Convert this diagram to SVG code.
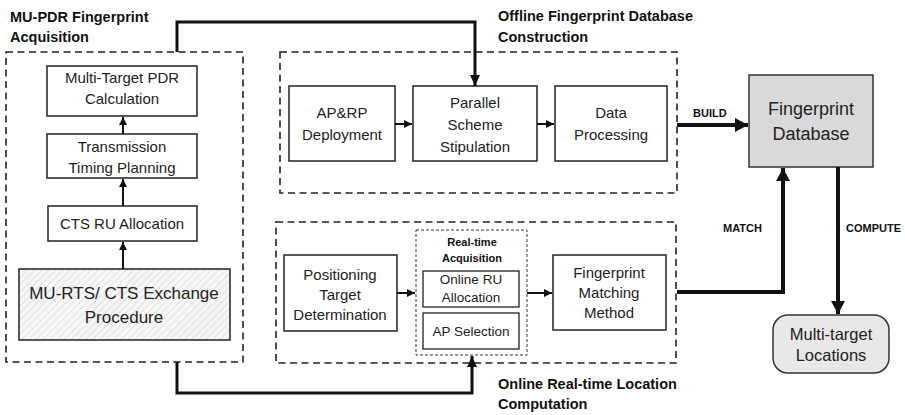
<svg xmlns="http://www.w3.org/2000/svg" width="905" height="415" viewBox="0 0 905 415">
<style>
  .box{fill:#fff;stroke:#222;stroke-width:1.5}
  .grp{fill:none;stroke:#222;stroke-width:1.6;stroke-dasharray:7 4.5}
  .dot{fill:none;stroke:#333;stroke-width:1;stroke-dasharray:3 2}
  .t{font-family:"Liberation Sans",Arial,sans-serif;font-size:15px;fill:#222;text-anchor:middle}
  .s{font-size:13.5px}
  .title{font-family:"Liberation Sans",Arial,sans-serif;font-size:14.5px;font-weight:bold;fill:#111}
  .lab{font-family:"Liberation Sans",Arial,sans-serif;font-size:11px;font-weight:bold;fill:#111}
  .thin{fill:none;stroke:#111;stroke-width:2;marker-end:url(#a1)}
  .mid{fill:none;stroke:#111;stroke-width:3;marker-end:url(#a2)}
  .thick{fill:none;stroke:#111;stroke-width:4;marker-end:url(#a3)}
</style>
<defs>
  <marker id="a1" markerUnits="userSpaceOnUse" markerWidth="9" markerHeight="8" refX="8" refY="4" orient="auto"><path d="M0,0 L8,4 L0,8 Z" fill="#111"/></marker>
  <marker id="a2" markerUnits="userSpaceOnUse" markerWidth="12" markerHeight="10" refX="11" refY="5" orient="auto"><path d="M0,0 L11,5 L0,10 Z" fill="#111"/></marker>
  <marker id="a3" markerUnits="userSpaceOnUse" markerWidth="14" markerHeight="14" refX="13" refY="7" orient="auto"><path d="M0,0 L13,7 L0,14 Z" fill="#111"/></marker>
  <pattern id="hatch" patternUnits="userSpaceOnUse" width="5" height="5" patternTransform="rotate(45)">
    <rect width="5" height="5" fill="#f6f6f6"/>
    <line x1="0" y1="0" x2="0" y2="5" stroke="#cfcfcf" stroke-width="1.1"/>
  </pattern>
</defs>

<g id="group-acquisition">
  <rect class="grp" x="6" y="52" width="237" height="310"/>
  <text class="title" x="10" y="22">MU-PDR Fingerprint</text>
  <text class="title" x="10" y="42">Acquisition</text>
</g>
<g id="group-offline">
  <rect class="grp" x="280" y="52" width="397" height="141"/>
  <text class="title" x="498" y="21">Offline Fingerprint Database</text>
  <text class="title" x="498" y="42">Construction</text>
</g>
<g id="group-online">
  <rect class="grp" x="276" y="222" width="400" height="141"/>
  <text class="title" x="498" y="389">Online Real-time Location</text>
  <text class="title" x="498" y="409">Computation</text>
</g>

<g id="node-pdr-calc">
  <rect class="box" x="47" y="66" width="150" height="50"/>
  <text class="t" x="122" y="83">Multi-Target PDR</text>
  <text class="t" x="122" y="104">Calculation</text>
</g>
<g id="node-timing">
  <rect class="box" x="47" y="134" width="150" height="44"/>
  <text class="t" x="122" y="152">Transmission</text>
  <text class="t" x="122" y="173">Timing Planning</text>
</g>
<g id="node-cts-ru">
  <rect class="box" x="48" y="206" width="149" height="35"/>
  <text class="t" x="122" y="229">CTS RU Allocation</text>
</g>
<g id="node-exchange">
  <rect x="19" y="269" width="211" height="71" fill="url(#hatch)" stroke="#222" stroke-width="1.5"/>
  <text class="t" x="124" y="299" style="font-size:17px">MU-RTS/ CTS Exchange</text>
  <text class="t" x="124" y="323" style="font-size:17px">Procedure</text>
</g>

<g id="node-aprp">
  <rect class="box" x="289" y="86" width="106" height="75"/>
  <text class="t" x="342" y="118">AP&amp;RP</text>
  <text class="t" x="342" y="140">Deployment</text>
</g>
<g id="node-parallel">
  <rect class="box" x="413" y="86" width="124" height="75"/>
  <text class="t" x="475" y="108">Parallel</text>
  <text class="t" x="475" y="130">Scheme</text>
  <text class="t" x="475" y="152">Stipulation</text>
</g>
<g id="node-data">
  <rect class="box" x="555" y="86" width="112" height="75"/>
  <text class="t" x="611" y="118">Data</text>
  <text class="t" x="611" y="140">Processing</text>
</g>

<g id="node-positioning">
  <rect class="box" x="284" y="255" width="113" height="76"/>
  <text class="t" x="340" y="280">Positioning</text>
  <text class="t" x="340" y="300">Target</text>
  <text class="t" x="340" y="320">Determination</text>
</g>
<g id="node-realtime">
  <rect class="dot" x="416" y="230" width="111" height="125"/>
  <text class="lab" x="472" y="246" text-anchor="middle">Real-time</text>
  <text class="lab" x="472" y="262" text-anchor="middle">Acquisition</text>
</g>
<g id="node-online-ru">
  <rect class="box" x="423" y="271" width="96" height="36" style="stroke-width:1.3"/>
  <text class="t s" x="471" y="284">Online RU</text>
  <text class="t s" x="471" y="302">Allocation</text>
</g>
<g id="node-ap-sel">
  <rect class="box" x="423" y="313" width="96" height="36" style="stroke-width:1.3"/>
  <text class="t s" x="471" y="336">AP Selection</text>
</g>
<g id="node-matching">
  <rect class="box" x="553" y="255" width="113" height="75"/>
  <text class="t" x="609" y="278">Fingerprint</text>
  <text class="t" x="609" y="298">Matching</text>
  <text class="t" x="609" y="318">Method</text>
</g>

<g id="node-db">
  <rect x="749" y="75" width="124" height="92" fill="#d9d9d9" stroke="#333" stroke-width="1.5"/>
  <text class="t" x="811" y="115" style="font-size:18px">Fingerprint</text>
  <text class="t" x="811" y="140" style="font-size:18px">Database</text>
</g>
<g id="node-locations">
  <rect x="773" y="315" width="116" height="58" rx="15" ry="15" fill="#e8e8e8" stroke="#333" stroke-width="1.5"/>
  <text class="t" x="831" y="340" style="font-size:16.5px">Multi-target</text>
  <text class="t" x="831" y="361" style="font-size:16.5px">Locations</text>
</g>

<g id="connectors">
  <path class="thin" d="M123,134 L123,117"/>
  <path class="thin" d="M123,206 L123,179"/>
  <path class="thin" d="M123,269 L123,242"/>
  <path class="thin" d="M395,124 L412,124"/>
  <path class="thin" d="M537,124 L554,124"/>
  <path class="thin" d="M397,293 L415,293"/>
  <path class="thin" d="M527,293 L552,293"/>
  <path class="mid" d="M177,52 L177,22 L475,22 L475,86"/>
  <path class="mid" d="M177,362 L177,393 L472,393 L472,356"/>
  <path class="thick" d="M677,125 L748,125"/>
  <path class="thick" d="M677,292 L783,292 L783,168"/>
  <path class="thick" d="M838,167 L838,314"/>
  <text class="lab" x="693" y="117">BUILD</text>
  <text class="lab" x="723" y="232">MATCH</text>
  <text class="lab" x="846" y="232">COMPUTE</text>
</g>
</svg>
